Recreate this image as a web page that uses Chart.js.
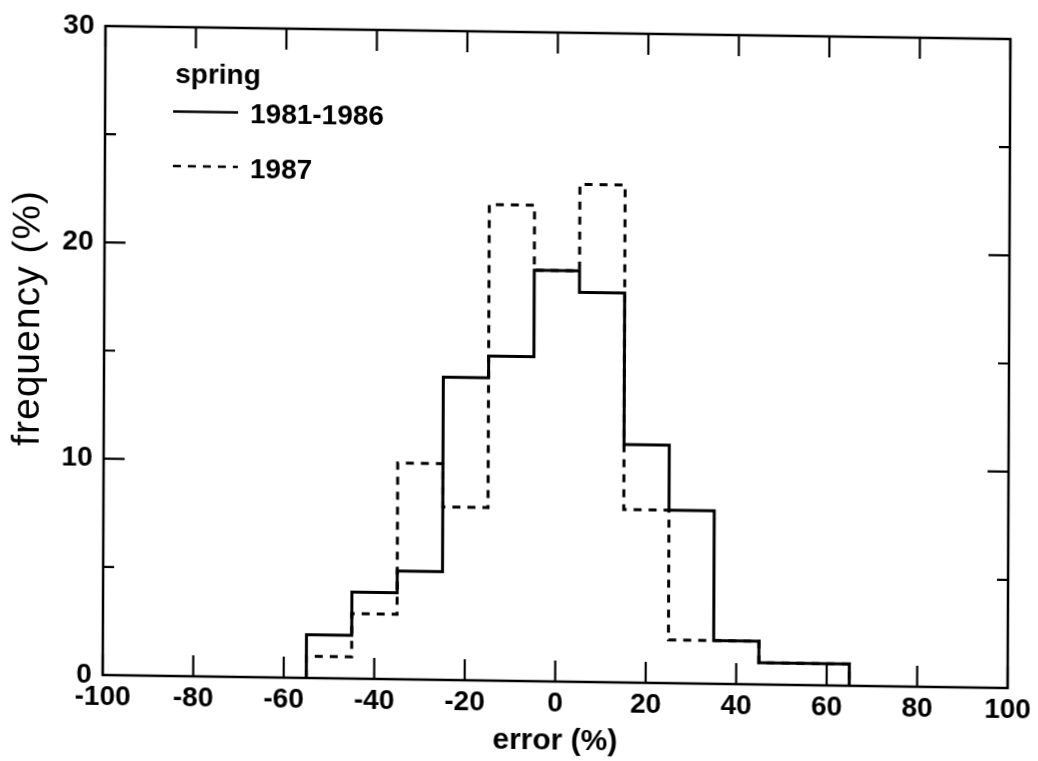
<!DOCTYPE html>
<html>
<head>
<meta charset="utf-8">
<script src="https://cdn.jsdelivr.net/npm/chart.js@4.4.1/dist/chart.umd.min.js"></script>
<style>
  html, body { margin: 0; padding: 0; background: #fff; overflow: hidden; }
  /* the scan is slightly skewed */
  #chart { display: block; transform: matrix(1, 0.0144, -0.0043, 1, 0, 0); transform-origin: 519px 380.5px; }
</style>
</head>
<body>
<canvas id="chart" width="1038" height="761"></canvas>
<script>
// bins of 10 % error, left edges, last right edge
const binEdges = [-55, -45, -35, -25, -15, -5, 5, 15, 25, 35, 45, 55];
const lastEdge = 65;
const spring8186 = [2, 4, 5, 14, 15, 19, 18, 11, 8, 2, 1, 1];
const spring1987 = [1, 3, 10, 8, 22, 19, 23, 8, 2, 2, 1, 1];

const xTicks = [-100, -80, -60, -40, -20, 0, 20, 40, 60, 80, 100];
const yTicks = [0, 10, 20, 30];
const yMinorTicks = [5, 15, 25];

const FONT = "'Liberation Sans', Arial, Helvetica, sans-serif";

function stepPoints(vals) {
    let pts = [{x: binEdges[0], y: 0}];
    for (let i = 0; i < vals.length; i++) pts.push({x: binEdges[i], y: vals[i]});
    pts.push({x: lastEdge, y: 0});
    return pts;
}

// frame + inward ticks on all four sides
const framePlugin = {
    id: 'frame',
    afterDraw(chart) {
        const {ctx, chartArea: a, scales: {x, y}} = chart;
        ctx.save();
        ctx.strokeStyle = '#000';
        ctx.lineWidth = 2.5;
        ctx.strokeRect(a.left, a.top, a.right - a.left, a.bottom - a.top);
        ctx.lineWidth = 2.2;
        ctx.beginPath();
        xTicks.forEach(v => {
            const px = x.getPixelForValue(v);
            ctx.moveTo(px, a.bottom); ctx.lineTo(px, a.bottom - 21);
            ctx.moveTo(px, a.top); ctx.lineTo(px, a.top + 21);
        });
        yTicks.forEach(v => {
            const py = y.getPixelForValue(v);
            ctx.moveTo(a.left, py); ctx.lineTo(a.left + 21, py);
            ctx.moveTo(a.right, py); ctx.lineTo(a.right - 21, py);
        });
        yMinorTicks.forEach(v => {
            const py = y.getPixelForValue(v);
            ctx.moveTo(a.left, py); ctx.lineTo(a.left + 11, py);
            ctx.moveTo(a.right, py); ctx.lineTo(a.right - 11, py);
        });
        ctx.stroke();

        // y axis title sits a bit above the middle in the original
        ctx.translate(28, 325);
        ctx.rotate(-Math.PI / 2);
        ctx.fillStyle = '#000';
        ctx.font = '39px ' + FONT;
        ctx.letterSpacing = '1px';
        ctx.textAlign = 'center';
        ctx.textBaseline = 'middle';
        ctx.fillText('frequency (%)', 0, 0);
        ctx.restore();
    }
};

// legend in the upper left corner
const legendPlugin = {
    id: 'legendBox',
    afterDraw(chart) {
        const ctx = chart.ctx;
        const ds = chart.data.datasets;
        ctx.save();
        ctx.fillStyle = '#000';
        ctx.strokeStyle = '#000';
        ctx.font = 'bold 28px ' + FONT;
        ctx.textBaseline = 'alphabetic';
        ctx.fillText('spring', 174, 88);
        const rows = [{y: 116.5, base: 127}, {y: 171, base: 181.5}];
        rows.forEach((r, i) => {
            ctx.lineWidth = 2.5;
            ctx.setLineDash(ds[i].borderDash || []);
            ctx.beginPath();
            ctx.moveTo(172, r.y); ctx.lineTo(237, r.y);
            ctx.stroke();
            ctx.setLineDash([]);
            ctx.fillText(ds[i].label, 249, r.base);
        });
        ctx.restore();
    }
};

new Chart(document.getElementById('chart'), {
    type: 'line',
    data: {
        datasets: [
            { label: '1981-1986', data: stepPoints(spring8186), borderColor: '#000', borderWidth: 3, stepped: true, pointRadius: 0, fill: false },
            { label: '1987', data: stepPoints(spring1987), borderColor: '#000', borderWidth: 3, borderDash: [8, 7], stepped: true, pointRadius: 0, fill: false }
        ]
    },
    options: {
        responsive: false,
        animation: false,
        events: [],
        layout: { padding: { top: 32, right: 29, left: 0, bottom: 0 } },
        plugins: { legend: { display: false }, tooltip: { enabled: false } },
        scales: {
            x: {
                type: 'linear', min: -100, max: 100,
                afterBuildTicks: s => { s.ticks = xTicks.map(v => ({value: v})); },
                afterFit: s => { s.height = 80; },
                grid: { display: false, drawTicks: false },
                border: { display: false },
                ticks: { color: '#000', padding: 5, maxRotation: 0, font: { family: FONT, size: 28, weight: 'bold' } },
                title: { display: true, text: 'error (%)', color: '#000', padding: { top: 0, bottom: 2 }, font: { family: FONT, size: 30, weight: 'bold' } }
            },
            y: {
                type: 'linear', min: 0, max: 30,
                afterBuildTicks: s => { s.ticks = yTicks.map(v => ({value: v})); },
                afterFit: s => { s.width = 104; },
                grid: { display: false, drawTicks: false },
                border: { display: false },
                ticks: { color: '#000', padding: 11, font: { family: FONT, size: 28, weight: 'bold' } },
                title: { display: false }
            }
        }
    },
    plugins: [framePlugin, legendPlugin]
});
</script>
</body>
</html>
